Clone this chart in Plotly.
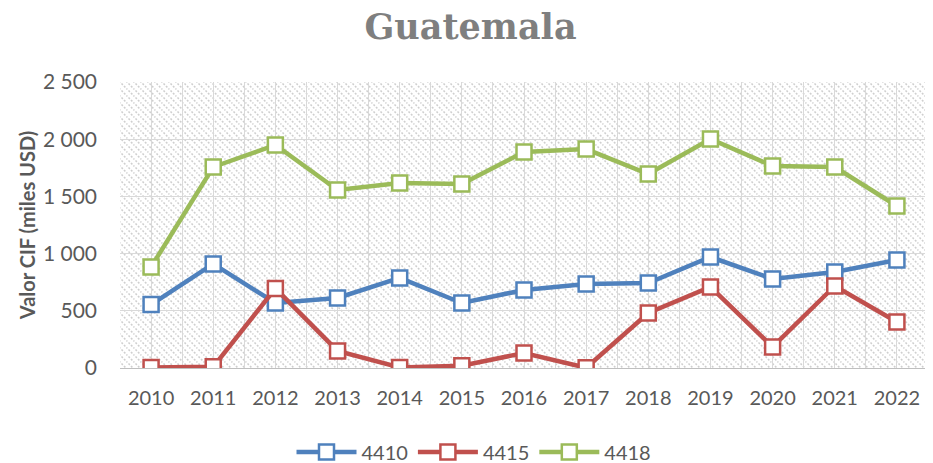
import plotly.graph_objects as go
import urllib.parse

years = [2010, 2011, 2012, 2013, 2014, 2015, 2016, 2017, 2018, 2019, 2020, 2021, 2022]
s4410 = [555, 910, 568, 612, 787, 568, 682, 734, 743, 970, 778, 839, 944]
s4415 = [5, 10, 695, 149, 5, 20, 131, 2, 481, 708, 184, 717, 402]
s4418 = [883, 1757, 1950, 1556, 1617, 1608, 1888, 1914, 1696, 2002, 1766, 1757, 1416]
series_names = ["4410", "4415", "4418"]
colors = ["#4F81BD", "#C0504D", "#9BBB59"]
y_ticks = [0, 500, 1000, 1500, 2000, 2500]

FONT = "Lato"
W, H = 925, 455  # page body has an 8px margin

fig = go.Figure()
for name, vals, col in zip(series_names, [s4410, s4415, s4418], colors):
    fig.add_trace(go.Scatter(
        x=years, y=vals, name=name, mode="lines+markers",
        line=dict(color=col, width=4.5),
        marker=dict(symbol="square", size=15, color="white",
                    line=dict(color=col, width=2.5)),
    ))

# Hatched background for plot area
svg = (
    "<svg xmlns='http://www.w3.org/2000/svg' width='808' height='286' viewBox='0 0 808 286' preserveAspectRatio='none'>"
    "<defs><pattern id='p' width='7' height='7' patternUnits='userSpaceOnUse'>"
    "<path d='M-1,-1 L8,8 M-1,6 L1,8 M6,-1 L8,1' stroke='#CFCFCF' stroke-width='1.5' stroke-dasharray='2,1.5'/>"
    "</pattern></defs><rect width='808' height='286' fill='url(#p)'/></svg>"
)
src = "data:image/svg+xml;charset=utf-8," + urllib.parse.quote(svg)
fig.add_layout_image(dict(source=src, xref="paper", yref="paper", x=0, y=1,
                          sizex=1, sizey=1, xanchor="left", yanchor="top",
                          sizing="stretch", layer="below", opacity=1))

fig.update_layout(
    width=W, height=H,
    margin=dict(l=112, r=5, t=74, b=95),
    paper_bgcolor="white", plot_bgcolor="rgba(0,0,0,0)",
    separators=", ",
    font=dict(family=FONT, color="#595959", size=20),
    title=dict(text="<b>Guatemala</b>", x=0.5, xanchor="center",
               yref="container", y=1 - 19 / H, yanchor="middle",
               font=dict(family="DejaVu Serif", size=35, color="#7F7F7F")),
    showlegend=True,
    legend=dict(orientation="h", xref="container", x=466 / W, xanchor="center",
                yref="container", y=1 - 444 / H, yanchor="middle",
                font=dict(size=20, color="#595959"), itemwidth=60, traceorder="normal"),
)
fig.update_xaxes(
    range=[2009.5, 2022.5], tickmode="array", tickvals=years, ticktext=[str(y) for y in years],
    showgrid=True, gridcolor="#D9D9D9", gridwidth=1,
    minor=dict(showgrid=True, gridcolor="#D9D9D9", tick0=2009.5, dtick=1),
    showline=True, linecolor="#BFBFBF", linewidth=1, ticks="", zeroline=False,
    tickfont=dict(size=20, color="#595959"), ticklabelstandoff=12,
)
fig.update_yaxes(
    range=[0, 2500], tickmode="array", tickvals=y_ticks, tickformat=",d",
    showgrid=True, gridcolor="#D9D9D9", gridwidth=1, zeroline=False,
    showline=False, ticks="", tickfont=dict(size=21, color="#595959"),
    ticklabelstandoff=22,
    title=dict(text="<b>Valor CIF (miles USD)</b>", font=dict(size=20, color="#595959"), standoff=1),
)
fig.write_html("out.html")
